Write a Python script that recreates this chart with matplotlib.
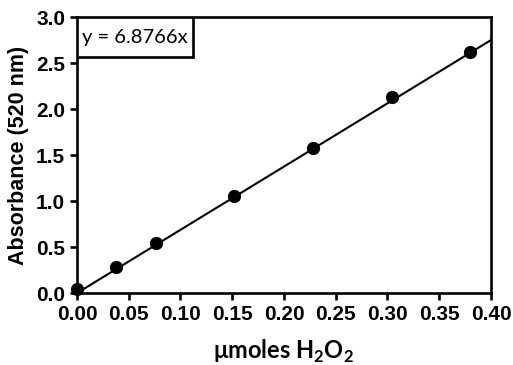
import matplotlib
matplotlib.use("Agg")
import matplotlib.pyplot as plt
from matplotlib.patches import Rectangle
import numpy as np

x_vals = [0.0, 0.038, 0.076, 0.152, 0.228, 0.304, 0.380]
y_vals = [0.04, 0.28, 0.54, 1.055, 1.58, 2.13, 2.62]
slope = 6.8766
x_ticks = [0.00, 0.05, 0.10, 0.15, 0.20, 0.25, 0.30, 0.35, 0.40]
y_ticks = [0.0, 0.5, 1.0, 1.5, 2.0, 2.5, 3.0]

fig = plt.figure(figsize=(5.13, 3.65), dpi=100)
ax = fig.add_axes([0.150, 0.197, 0.807, 0.756])

fit_x = np.array([0.0, 0.40])
ax.plot(fit_x, slope * fit_x, color="black", lw=1.5, zorder=2, clip_on=False)
ax.plot(x_vals, y_vals, "o", color="black", ms=8.5, zorder=3, clip_on=False)

ax.set_xlim(0, 0.40)
ax.set_ylim(0, 3.0)
ax.set_xticks(x_ticks)
ax.set_yticks(y_ticks)
ax.set_xticklabels([f"{v:.2f}" for v in x_ticks])
ax.set_yticklabels([f"{v:.1f}" for v in y_ticks])
for s in ax.spines.values():
    s.set_linewidth(1.9)
ax.tick_params(direction="out", length=5, width=1.9, pad=3.5)
for lab in ax.get_xticklabels() + ax.get_yticklabels():
    lab.set_fontfamily("Liberation Sans")
    lab.set_fontweight("bold")
    lab.set_fontsize(15)

ax.set_ylabel("Absorbance (520 nm)", fontfamily="Liberation Sans",
              fontweight="bold", fontsize=15.5, labelpad=5)
ax.set_xlabel(r"μmoles H$_\mathregular{2}$O$_\mathregular{2}$", fontfamily="Lato",
              fontweight="bold", fontsize=17, labelpad=10)

box = Rectangle((0, 0.855), 0.28, 0.145, transform=ax.transAxes,
                fc="white", ec="black", lw=1.9, zorder=4)
ax.add_patch(box)
ax.text(0.14, 0.9275, f"y = {slope}x", transform=ax.transAxes,
        fontfamily="Lato", fontsize=14.5, va="center", ha="center", zorder=5)

fig.savefig("out.png", dpi=100)
